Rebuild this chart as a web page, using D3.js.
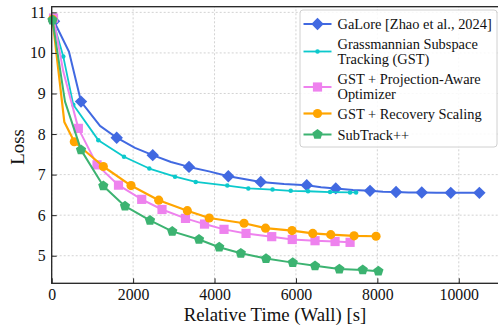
<!DOCTYPE html>
<html>
<head>
<meta charset="utf-8">
<script src="https://cdn.jsdelivr.net/npm/d3@7"></script>
<style>
  body { margin: 0; background: #fff; }
</style>
</head>
<body>
<div id="chart"></div>
<script>
// values: [relative wall time (s), loss]
var galore = [[57,10.78],[425,10.03],[720,8.80],[1187,8.20],[1597,7.91],[2047,7.66],[2482,7.48],
  [2931,7.31],[3373,7.19],[3865,7.08],[4339,6.96],[4725,6.89],[5135,6.82],[5708,6.77],[6265,6.74],
  [6617,6.69],[6978,6.66],[7403,6.62],[7820,6.60],[8140,6.58],[8459,6.57],[8770,6.56],[9091,6.56],
  [9450,6.55],[9803,6.55],[10150,6.55],[10506,6.55]];
var gst = [[20,10.83],[285,9.91],[531,8.72],[1145,7.85],[1776,7.44],[2398,7.15],[3029,6.95],
  [3538,6.82],[4314,6.73],[4830,6.66],[5425,6.63],[5872,6.60],[6297,6.59],[6838,6.57],[7329,6.56],[7477,6.56]];
var gstPao = [[45,10.86],[285,9.54],[654,8.14],[1113,7.24],[1641,6.74],[2211,6.39],[2710,6.14],
  [3287,5.92],[3754,5.78],[4233,5.65],[4774,5.55],[5405,5.47],[5909,5.40],[6469,5.37],[6961,5.35],[7330,5.33]];
var gstRs = [[20,10.83],[310,8.30],[555,7.81],[1268,7.20],[1948,6.73],[2629,6.37],[3332,6.11],
  [3870,5.93],[4725,5.80],[5253,5.68],[5904,5.62],[6413,5.55],[6855,5.52],[7428,5.49],[7968,5.48]];
var subtrack = [[20,10.81],[327,8.80],[720,7.61],[1268,6.72],[1801,6.22],[2415,5.87],[2961,5.60],
  [3619,5.40],[4115,5.21],[4646,5.06],[5265,4.93],[5921,4.83],[6469,4.75],[7066,4.67],[7641,4.65],[8025,4.62]];

var xTicks = [0, 2000, 4000, 6000, 8000, 10000];
var yTicks = [5, 6, 7, 8, 9, 10, 11];

var series = [
  { name: ["GaLore [Zhao et al., 2024]"], data: galore, color: "#4169e1", marker: "diamond", lw: 2, every: 2, skip: [] },
  { name: ["Grassmannian Subspace", "Tracking (GST)"], data: gst, color: "#0cc9cc", marker: "dot", lw: 1.8, every: 1, skip: [] },
  { name: ["GST + Projection-Aware", "Optimizer"], data: gstPao, color: "#ee82ee", marker: "square", lw: 2, every: 1, skip: [1] },
  { name: ["GST + Recovery Scaling"], data: gstRs, color: "#ffa500", marker: "circle", lw: 2.2, every: 1, skip: [1] },
  { name: ["SubTrack++"], data: subtrack, color: "#3cb371", marker: "pentagon", lw: 2, every: 1, skip: [1] }
];

var serif = "'Liberation Serif', 'Times New Roman', 'DejaVu Serif', serif";
var width = 498, height = 325;
var svg = d3.select("#chart").append("svg")
  .attr("width", width).attr("height", height);

var x = d3.scaleLinear().domain([0, 11030]).range([51.7, 500.7]);
var y = d3.scaleLinear().domain([4.32, 11.14]).range([283.3, 6.7]);

// grid
svg.append("g").selectAll("line").data(xTicks).enter().append("line")
  .attr("x1", function(d){ return x(d); }).attr("x2", function(d){ return x(d); })
  .attr("y1", y.range()[0]).attr("y2", y.range()[1])
  .attr("stroke", "#c8c8c8").attr("stroke-width", 0.8).attr("stroke-dasharray", "2,2");
svg.append("g").selectAll("line").data(yTicks).enter().append("line")
  .attr("y1", function(d){ return y(d); }).attr("y2", function(d){ return y(d); })
  .attr("x1", x.range()[0]).attr("x2", x.range()[1])
  .attr("stroke", "#c8c8c8").attr("stroke-width", 0.8).attr("stroke-dasharray", "2,2");

function markerPath(type) {
  if (type == "diamond") return "M0,-6.2L6.2,0L0,6.2L-6.2,0Z";
  if (type == "square") return "M-4.6,-4.6H4.6V4.6H-4.6Z";
  if (type == "circle") return d3.symbol(d3.symbolCircle, 66)();
  if (type == "dot") return d3.symbol(d3.symbolCircle, 16)();
  var pts = [];
  for (var k = 0; k < 5; k++) {
    var a = -Math.PI / 2 + k * 2 * Math.PI / 5;
    pts.push([5.4 * Math.cos(a), 5.4 * Math.sin(a)]);
  }
  return "M" + pts.join("L") + "Z";
}

var line = d3.line()
  .x(function(d){ return x(d[0]); })
  .y(function(d){ return y(d[1]); });

var plot = svg.append("g");
series.forEach(function(s) {
  plot.append("path").datum(s.data)
    .attr("d", line).attr("fill", "none")
    .attr("stroke", s.color).attr("stroke-width", s.lw)
    .attr("stroke-linejoin", "round");
  plot.selectAll(null)
    .data(s.data.filter(function(d, i){ return i % s.every == 0 && s.skip.indexOf(i) < 0; }))
    .enter().append("path")
    .attr("d", markerPath(s.marker))
    .attr("transform", function(d){ return "translate(" + x(d[0]) + "," + y(d[1]) + ")"; })
    .attr("fill", s.color);
});

// axes with inward ticks
var xAxis = svg.append("g").attr("transform", "translate(0," + y.range()[0] + ")")
  .call(d3.axisBottom(x).tickValues(xTicks).tickSize(-5).tickPadding(5).tickFormat(d3.format("d")));
var yAxis = svg.append("g").attr("transform", "translate(" + x.range()[0] + ",0)")
  .call(d3.axisLeft(y).tickValues(yTicks).tickSize(-5).tickPadding(6).tickFormat(d3.format("d")));
[xAxis, yAxis].forEach(function(a) {
  a.attr("font-family", serif).attr("font-size", 15.8);
  a.select(".domain").remove();
  a.selectAll(".tick line").attr("stroke", "#222").attr("stroke-width", 1);
  a.selectAll(".tick text").attr("fill", "#111");
});

// frame
svg.append("rect")
  .attr("x", x.range()[0]).attr("y", y.range()[1])
  .attr("width", x.range()[1] - x.range()[0]).attr("height", y.range()[0] - y.range()[1])
  .attr("fill", "none").attr("stroke", "#222").attr("stroke-width", 1.3);

svg.append("text").attr("x", 275).attr("y", 321).attr("text-anchor", "middle")
  .attr("font-family", serif).attr("font-size", 18.8).attr("fill", "#111")
  .text("Relative Time (Wall) [s]");
svg.append("text").attr("transform", "translate(24,147) rotate(-90)").attr("text-anchor", "middle")
  .attr("font-family", serif).attr("font-size", 18.8).attr("fill", "#111")
  .text("Loss");

// legend
var legend = svg.append("g");
legend.append("rect").attr("x", 300).attr("y", 10).attr("width", 197).attr("height", 137)
  .attr("rx", 3).attr("fill", "#fff").attr("fill-opacity", 0.85)
  .attr("stroke", "#d0d0d0").attr("stroke-width", 1);
var handleY = [24, 51.5, 87, 113.5, 134.5];
var textY = [[29], [48.5, 64], [83.5, 99], [119], [140]];
series.forEach(function(s, i) {
  legend.append("line").attr("x1", 303.5).attr("x2", 331.5)
    .attr("y1", handleY[i]).attr("y2", handleY[i])
    .attr("stroke", s.color).attr("stroke-width", s.lw);
  legend.append("path").attr("d", markerPath(s.marker))
    .attr("transform", "translate(317.5," + handleY[i] + ")").attr("fill", s.color);
  s.name.forEach(function(t, j) {
    legend.append("text").attr("x", 337.5).attr("y", textY[i][j])
      .attr("font-family", serif).attr("font-size", 14.4).attr("fill", "#111")
      .text(t);
  });
});
</script>
</body>
</html>
